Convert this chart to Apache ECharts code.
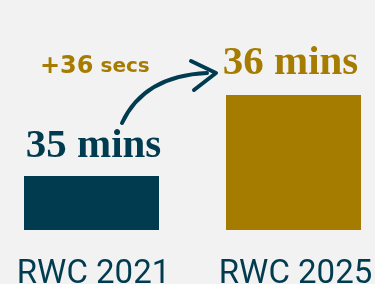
<!DOCTYPE html>
<html>
<head>
<meta charset="utf-8">
<script src="https://cdn.jsdelivr.net/npm/echarts@6/dist/echarts.min.js"></script>
<style>
html,body{margin:0;padding:0;background:#f2f2f2;}
#chart{width:375px;height:284px;}
</style>
</head>
<body>
<div id="chart"></div>
<script>
const categories = ['RWC 2021', 'RWC 2025'];
const valuesMinutes = [35.4, 36.0];
const valueLabels = ['35 mins', '36 mins'];
const barColors = ['#013b4f', '#a67c00'];
const diffLabelNum = '+36';
const diffLabelUnit = 'secs';

const chart = echarts.init(document.getElementById('chart'), null, {renderer: 'canvas'});
const dark = '#013b4f', gold = '#a67c00';

chart.setOption({
  backgroundColor: '#f2f2f2',
  animation: false,
  grid: {left: -9.5, right: -19.5, top: 95, bottom: 54, containLabel: false, outerBoundsMode: 'none'},
  xAxis: {
    type: 'category',
    data: categories,
    axisLine: {show: false},
    axisTick: {show: false},
    axisLabel: {
      interval: 0,
      hideOverlap: false,
      color: dark,
      fontFamily: 'Roboto',
      fontSize: 33,
      margin: 28,
      padding: [0, 0, 0, 4],
      verticalAlign: 'top'
    }
  },
  yAxis: {
    type: 'value',
    min: 35,
    max: 36,
    show: false,
    splitLine: {show: false}
  },
  series: [{
    type: 'bar',
    barWidth: 135,
    data: valuesMinutes.map((v, i) => ({
      value: v,
      itemStyle: {color: barColors[i]},
      label: {color: barColors[i], distance: i === 0 ? 9 : 11, offset: i === 0 ? [2, 0] : [-3, 0]}
    })),
    label: {
      show: true,
      position: 'top',
      distance: 10,
      fontFamily: 'Liberation Serif',
      fontWeight: 'bold',
      fontSize: 41,
      formatter: p => valueLabels[p.dataIndex]
    }
  }],
  graphic: [
    {
      type: 'text',
      left: 40,
      top: 55,
      style: {
        text: '{a|' + diffLabelNum + '}{b| ' + diffLabelUnit + '}',
        rich: {
          a: {fontFamily: 'DejaVu Sans', fontWeight: 'bold', fontSize: 24, fill: gold, color: gold},
          b: {fontFamily: 'DejaVu Sans', fontWeight: 'bold', fontSize: 20, fill: gold, color: gold}
        }
      }
    },
    {
      type: 'bezierCurve',
      shape: {x1: 122, y1: 123, cpx1: 136, cpy1: 93, cpx2: 162, cpy2: 75, x2: 207, y2: 73},
      style: {stroke: dark, lineWidth: 4, lineCap: 'round', fill: null}
    },
    {
      type: 'polyline',
      shape: {points: [[191, 61], [216, 73], [194, 90]]},
      style: {stroke: dark, lineWidth: 4, lineCap: 'round', lineJoin: 'round', fill: null}
    }
  ]
});
</script>
</body>
</html>
